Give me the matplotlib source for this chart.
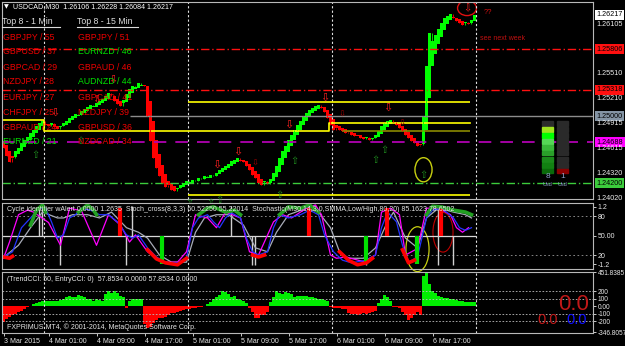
import numpy as np
import matplotlib.pyplot as plt
from matplotlib.patches import Ellipse, Rectangle
from matplotlib.lines import Line2D

plt.rcParams['font.family'] = ['Liberation Sans', 'DejaVu Sans']

W, H = 625, 346
nan = np.nan

# ---- USDCAD M30 closes (one per bar)
closes = [1.2462, 1.2452, 1.2445,
          1.2450, 1.2458, 1.2462, 1.2468, 1.2472, 1.2475, 1.2480, 1.2484, 1.2488, 1.2492, 1.2495,
          1.2490, 1.2488, 1.2492, 1.2487, 1.2485, 1.2489,
          1.2492, 1.2495, 1.2498, 1.2500, 1.2503, 1.2502, 1.2506, 1.2509, 1.2511, 1.2514, 1.2512,
          1.2516, 1.2519, 1.2521, 1.2524,
          1.2528, 1.2524, 1.2518, 1.2515, 1.2513, 1.2520, 1.2527, 1.2533, 1.2537, 1.2535, 1.2540,
          1.2538, 1.2536,
          1.2500, 1.2470, 1.2450, 1.2438, 1.2428, 1.2420, 1.2415, 1.2418, 1.2412, 1.2410,
          1.2414, 1.2418, 1.2420, 1.2422, 1.2421, 1.2424, 1.2423, 1.2426, 1.2425, 1.2428, 1.2427,
          1.2430, 1.2429,
          1.2432, 1.2436, 1.2438, 1.2440, 1.2443, 1.2446, 1.2448, 1.2450,
          1.2447, 1.2445, 1.2440, 1.2436, 1.2430, 1.2426, 1.2420, 1.2418, 1.2422, 1.2419,
          1.2425, 1.2432, 1.2440, 1.2450, 1.2458, 1.2465, 1.2472, 1.2478, 1.2484, 1.2490, 1.2495,
          1.2500, 1.2504, 1.2508, 1.2510, 1.2512, 1.2514,
          1.2510, 1.2505, 1.2498, 1.2490, 1.2484,
          1.2486, 1.2484, 1.2483, 1.2480, 1.2481, 1.2478, 1.2476, 1.2477, 1.2474, 1.2473, 1.2475,
          1.2472, 1.2474,
          1.2478, 1.2483, 1.2488, 1.2492, 1.2494, 1.2496, 1.2493,
          1.2490, 1.2486, 1.2482, 1.2478, 1.2474, 1.2470, 1.2468, 1.2464, 1.2466,
          1.2500, 1.2560, 1.2600,
          1.2590, 1.2598, 1.2605, 1.2612, 1.2618, 1.2620, 1.2623,
          1.2618, 1.2615, 1.2612, 1.2610, 1.2613, 1.2611,
          1.2616, 1.2622]
first_open = 1.2470

# horizontal levels on the price chart
res_lines = [1.25806, 1.25318]
pivot_line = 1.25000
pivot_from = 42
magenta_line = 1.24688
support_line = 1.24200
yellow_flat = [1.25173, 1.24057]
yellow_from, yellow_to = 61.5, 155.5
yellow_step_x = [-0.5, 13.5, 108.5, 155.5]
yellow_step_y = [1.24957, 1.24825, 1.24921, 1.24921]
olive_line = 1.24825
olive_from = 113

price_ticks = [1.26217, 1.26105, 1.25806, 1.25510, 1.25318, 1.25210, 1.25000,
               1.24915, 1.24688, 1.24615, 1.24320, 1.24200, 1.24020]
price_boxes = {1.26217: 'white', 1.25806: '#ff1010', 1.25318: '#ff1010',
               1.25000: '#8494a4', 1.24688: '#ff00ff', 1.24200: '#3ccc3c'}

# signal arrows (bar, price)
sell_x = [17, 31, 36.5, 71, 78, 95, 107, 128]
sell_y = [1.2498, 1.2514, 1.2538, 1.2436, 1.2451, 1.2484, 1.2516, 1.2504]
sell_small_x = [84, 113, 133]
sell_small_y = [1.2438, 1.2497, 1.2486]
buy_x = [10.5, 25.5, 62, 69, 72, 92, 97, 124, 127, 140]
buy_y = [1.2460, 1.2477, 1.2402, 1.2402, 1.2406, 1.2412, 1.2453, 1.2454, 1.2466, 1.2436]
top_arrow = (154.5, 1.2630)

# Top 8 lists
pairs_1min = ['GBPJPY / 55', 'GBPUSD / 37', 'GBPCAD / 29', 'NZDJPY / 28',
              'EURJPY / 27', 'CHFJPY / 25', 'GBPAUD / 24', 'EURNZD / 21']
up_1min = [0, 0, 0, 0, 0, 0, 0, 1]
pairs_15min = ['GBPJPY / 51', 'EURNZD / 46', 'GBPAUD / 46', 'AUDNZD / 44',
               'GBPCAD / 41', 'NZDJPY / 39', 'GBPUSD / 36', 'NZDCAD / 34']
up_15min = [0, 1, 0, 1, 0, 0, 0, 0]

# currency meter
meter_usd = 8
meter_cad = 1

# ---- stochastic panel
blue_idx = [0, 3, 6, 10, 12, 14, 16, 18, 20, 22, 24, 26, 29, 32, 35, 38, 41, 43, 45, 48,
            51, 54, 58, 61, 63, 65, 68, 70, 72, 74, 76, 79, 81, 83, 85, 88, 90, 92, 95, 99,
            102, 105, 107, 110, 113, 116, 121, 124, 126, 128, 131, 133, 135, 138, 141, 143,
            146, 150, 152, 154, 156]
blue_val = [17, 25, 62, 82, 92, 92, 71, 46, 51, 77, 82, 92, 89, 82, 82, 71, 51, 46, 51, 31,
            17, 8, 8, 15, 62, 77, 82, 71, 62, 77, 85, 77, 46, 25, 20, 25, 62, 82, 77, 82,
            89, 82, 51, 25, 12, 8, 12, 20, 62, 86, 71, 35, 9, 17, 77, 89,
            92, 77, 62, 58, 62]
mag_idx = [0, 2, 5, 8, 10, 15, 19, 22, 26, 31, 35, 39, 42, 44, 48, 51, 54, 58, 61, 64,
           68, 71, 74, 79, 82, 85, 90, 93, 96, 101, 104, 106, 109, 111, 114, 120, 124, 126,
           129, 132, 134, 138, 141, 145, 149, 151, 153, 155]
mag_val = [15, 40, 82, 89, 86, 70, 35, 92, 88, 35, 82, 66, 40, 51, 25, 15, 9, 9, 25, 82,
           77, 62, 86, 77, 25, 20, 71, 82, 77, 92, 97, 82, 20, 15, 17, 10, 20, 86,
           92, 82, 20, 30, 92, 92, 82, 62, 55, 62]
gray_idx = [0, 1, 5, 9, 13, 18, 20, 23, 28, 32, 36, 41, 45, 48, 52, 56, 61, 64, 67, 71,
            75, 80, 84, 88, 91, 95, 101, 105, 109, 112, 115, 120, 124, 128, 130, 134, 138,
            141, 145, 150, 154, 156]
gray_val = [17, 20, 35, 62, 86, 77, 77, 82, 82, 77, 86, 62, 55, 46, 20, 9, 9, 55, 77, 82,
            82, 66, 31, 25, 55, 82, 92, 86, 62, 25, 15, 15, 31, 71, 86, 46, 31,
            77, 92, 86, 82, 77]
trend_up_idx = [9, 11, 13, 14, nan, 25, 28, 30, 31, nan, 65, 68, 70, 74, 77, 79, nan,
                92, 95, 99, 102, 105, nan, 141, 143, 146, 150, 154, 156]
trend_up_val = [66, 89, 97, 86, nan, 86, 97, 89, 82, nan, 82, 92, 94, 86, 89, 82, nan,
                82, 94, 92, 97, 86, nan, 82, 95, 94, 89, 86, 82]
trend_dn_idx = [0, 2, 3, nan, 48, 51, 54, 58, 61, nan, 83, 85, 87, nan,
                112, 115, 118, 121, 123, nan, 133, 135, 137]
trend_dn_val = [17, 15, 18, nan, 28, 14, 8, 5, 15, nan, 20, 17, 20, nan,
                25, 12, 5, 8, 15, nan, 28, 8, 12]
cyc_up_white = [12, 13, 43, 76, 145]
cyc_up_red = [39, 102, 128, 146]
cyc_dn_white = [19, 41, 83, 84, 121, 145, 150]
cyc_dn_green = [53, 121, 138]

# ---- CCI histogram (one per bar)
cci = [-210, -170, -140, -120, -100, -80, -60, -40, -15, 10,
       30, 45, 55, 70, 70, 72, 74, 72, 75, 80,
       95, 117, 139, 120, 125, 145, 135, 117, 100, 90,
       74, 96, 80, 74, 160, 204, 180, 204, 180, 140,
       117, -20, 74, 90, 96, 96, 100, -230, -290, -270,
       -220, -180, -160, -150, -140, -120, -95, -85, -75, -60,
       -50, -40, -30, -25, -20, -15, -10, 10, 30, 52,
       90, 117, 150, 204, 195, 161, 117, 130, 96, 85,
       74, 40, -20, -75, -160, -160, -120, -120, -75, 52,
       120, 204, 182, 161, 195, 175, 161, 117, 139, 139,
       130, 139, 120, 117, 110, 96, 96, 80, 74, -15,
       -20, -20, -25, -30, -40, -90, -99, -99, -110, -99,
       -90, -99, -90, -80, -60, 40, 96, 150, 117, 74,
       -10, -15, -20, -75, -120, -185, -150, -120, -75, -120,
       400, 452, 300, 200, 170, 130, 120, 110, 110, 100,
       90, 80, 70, 65, 60, 60, 55, 58]

separators = [13.5, 61.5, 109.5, 157.5]
time_pos = [0, 15.3, 31.3, 47.3, 63.3, 79.3, 95.3, 111.3, 127.3, 143.3]
time_lab = ['3 Mar 2015', '4 Mar 01:00', '4 Mar 09:00', '4 Mar 17:00', '5 Mar 01:00',
            '5 Mar 09:00', '5 Mar 17:00', '6 Mar 01:00', '6 Mar 09:00', '6 Mar 17:00']


def ftext(x, y, s, **kw):
    kw.setdefault('va', 'center')
    fig.text(x / W, 1 - y / H, s, **kw)


def style(ax):
    ax.set_facecolor('black')
    for s in ax.spines.values():
        s.set_color('#b8b8b8')
        s.set_linewidth(0.8)
    ax.set_xlim(-0.5, 196.5)
    ax.tick_params(colors='#e8e8e8', labelsize=5, length=2, width=0.6, pad=1.5)
    ax.set_xticks([])
    for s in separators:
        ax.axvline(s, color='#e0e0e0', ls=(0, (2, 2)), lw=0.8)


fig = plt.figure(figsize=(W / 100, H / 100), dpi=100, facecolor='black')
ax0 = fig.add_axes([2 / W, 1 - 199 / H, 591 / W, 197 / H])
ax1 = fig.add_axes([2 / W, 1 - 269 / H, 591 / W, 66 / H])
ax2 = fig.add_axes([2 / W, 1 - 333 / H, 591 / W, 61 / H])
for a in (ax0, ax1, ax2):
    style(a)

# ---------------- main price chart
ax0.set_ylim(1.24009, 1.26373)
for p in res_lines:
    ax0.axhline(p, color='#ff1010', ls=(0, (6, 2, 1, 2)), lw=1)
ax0.hlines(pivot_line, pivot_from, 196.5, color='#8c8c8c', lw=1)
ax0.axhline(magenta_line, color='#b000b0', ls=(0, (7, 5)), lw=1.3)
ax0.axhline(support_line, color='#3ccc3c', ls=(0, (6, 2, 1, 2)), lw=1)
for p in yellow_flat:
    ax0.hlines(p, yellow_from, yellow_to, color='#ffff00', lw=1.2)
ax0.plot(yellow_step_x, yellow_step_y, drawstyle='steps-post', color='#ffff00', lw=1.2)
ax0.hlines(olive_line, olive_from, yellow_to, color='#8a8a00', lw=1.2)

c = np.array(closes)
ha_open = np.empty_like(c)
ha_open[0] = first_open
for k in range(1, len(c)):
    ha_open[k] = (ha_open[k - 1] + c[k - 1]) / 2
idx = np.arange(len(c))
up = c >= ha_open
ax0.bar(idx, c - ha_open, bottom=ha_open, width=0.75,
        color=np.where(up, '#00ff00', '#ff0000'), linewidth=0)
# thin wicks reaching the previous close
prev = np.concatenate([[first_open], c[:-1]])
ax0.vlines(idx, np.minimum(prev, c), np.maximum(prev, c),
           colors=np.where(up, '#00ff00', '#ff0000'), lw=0.6)

for x, y in zip(sell_x, sell_y):
    ax0.text(x, y, '\u21e9', color='#ff2020', fontsize=8, ha='center', va='bottom',
             family='DejaVu Sans')
for x, y in zip(sell_small_x, sell_small_y):
    ax0.text(x, y, '\u21e9', color='#a00000', fontsize=6, ha='center', va='bottom',
             family='DejaVu Sans')
for x, y in zip(buy_x, buy_y):
    ax0.text(x, y, '\u21e7', color='#1f8f1f', fontsize=7, ha='center', va='top',
             family='DejaVu Sans')
ax0.text(top_arrow[0], top_arrow[1], '\u21e9', color='#ff2020', fontsize=7,
         ha='center', va='center', family='DejaVu Sans')
ax0.add_patch(Ellipse(top_arrow, 6.3, 0.0018, fill=False, ec='#e01010', lw=1))
ax0.add_patch(Ellipse((140, 1.2436), 5.7, 0.0029, fill=False, ec='#c8d010', lw=1))
ax0.text(160, 1.26253, '??', color='#d01010', fontsize=5.5, va='center')
ax0.text(159, 1.25941, 'see next week', color='#c01010', fontsize=5, va='center')

ax0.set_yticks([])
for p in price_ticks:
    box = price_boxes.get(p)
    kw = dict(color='black' if box else '#ececec')
    if box:
        kw['bbox'] = dict(boxstyle='square,pad=0.2', fc=box, ec='none')
    ax0.text(1.006, p, f'{p:.5f}', transform=ax0.get_yaxis_transform(), fontsize=5.2,
             va='center', ha='left', clip_on=False, **kw)

# currency meter
usd_cols = ['#2c2c2c', '#9ee21e', '#00ff00', '#55d855', '#38b838', '#2aa02a',
            '#1a8a1a', '#128012', '#0a6a0a']
for r in range(9):
    y0 = 121 + 6 * r
    on_cad = r >= 9 - meter_cad
    fig.add_artist(Rectangle((542 / W, 1 - (y0 + 4.5) / H), 11 / W, 4.5 / H,
                             color=usd_cols[r] if r >= 9 - meter_usd else '#2c2c2c'))
    fig.add_artist(Rectangle((557 / W, 1 - (y0 + 4.5) / H), 11 / W, 4.5 / H,
                             color='#8a0000' if on_cad else '#2a2a2a'))
ftext(547.5, 177, str(meter_usd), color='#8fa2cc', fontsize=6, ha='center')
ftext(562.5, 177, str(meter_cad), color='#8fa2cc', fontsize=6, ha='center')
ftext(547.5, 185, 'Usd', color='#8fa2cc', fontsize=4, ha='center')
ftext(562.5, 185, 'Usd', color='#8fa2cc', fontsize=4, ha='center')

# overlay texts
ftext(4, 7, '\u25bc', color='white', fontsize=4.5, family=['DejaVu Sans'])
ftext(13, 7, 'USDCAD,M30  1.26106 1.26228 1.26084 1.26217', color='white', fontsize=5.1)
ftext(2, 22, 'Top 8 - 1 Min', color='#dcdcdc', fontsize=6.3)
ftext(77, 22, 'Top 8 - 15 Min', color='#dcdcdc', fontsize=6.3)
fig.add_artist(Line2D([2 / W, 60 / W], [1 - 27 / H] * 2, color='#dcdcdc', lw=0.8))
fig.add_artist(Line2D([77 / W, 138 / W], [1 - 27 / H] * 2, color='#dcdcdc', lw=0.8))
for k in range(8):
    yk = 37 + 15 * k
    ftext(3, yk, pairs_1min[k], color='#00e000' if up_1min[k] else '#ee0000', fontsize=6.3)
    ftext(78, yk, pairs_15min[k], color='#00e000' if up_15min[k] else '#ee0000', fontsize=6.3)

# ---------------- stochastic + cycle identifier
ax1.set_ylim(-1.5, 100)
for lv in (80, 20):
    ax1.axhline(lv, color='#9a9a9a', ls=(0, (2, 3)), lw=0.6)
ax1.hlines(50, -0.5, 157.5, color='#d8d8d8', lw=0.9)
ax1.vlines(cyc_up_white, 50, 95, color='#d0d0d0', lw=1)
ax1.vlines(cyc_dn_white, 50, 4, color='#d0d0d0', lw=1)
ax1.plot(gray_idx, gray_val, color='#a8acb8', lw=0.9)
ax1.plot(mag_idx, mag_val, color='#ff00ff', lw=0.9)
ax1.plot(blue_idx, blue_val, color='#2434ff', lw=0.9)
ax1.vlines(cyc_up_red, 50, 93, color='#ff0000', lw=3)
ax1.vlines(cyc_dn_green, 50, 6, color='#00e000', lw=3)
ax1.plot(trend_up_idx, trend_up_val, color='#22a022', lw=2.6)
ax1.plot(trend_dn_idx, trend_dn_val, color='#ff0000', lw=2.6)
ax1.add_patch(Ellipse((146.5, 55), 6.7, 61, fill=False, ec='#c00000', lw=0.8))
ax1.add_patch(Ellipse((138, 29), 7.7, 69, fill=False, ec='#c8d010', lw=0.9, clip_on=False))
ax1.yaxis.tick_right()
ax1.set_yticks([94, 80, 50, 20, 6], ['1.2', '80', '50.00', '20', '-1.2'])
ax1.text(0.008, 0.9, 'Cycle identifier wAlert 0.0000 1.2635  Stoch_cross(8,3,3) 60.52250 55.22014  '
         'Stochastic(M30,14,3,0,SMMA,Low/High,80,20) 85.1623 78.6502',
         transform=ax1.transAxes, color='#e6e6e6', fontsize=5, va='center')

# ---------------- CCI
ax2.set_ylim(-355, 455)
for lv in (200, 100, -100, -200):
    ax2.axhline(lv, color='#bcbcbc', ls=(0, (2, 2)), lw=0.6)
cv = np.array(cci)
ax2.bar(np.arange(len(cv)), cv, width=0.7, color=np.where(cv >= 0, '#00ee00', '#ff0000'),
        linewidth=0)
ax2.yaxis.tick_right()
ax2.set_yticks([451.8385, 200, 100, 0, -100, -200, -346.8057],
               ['451.8385', '200', '100', '0.00', '-100', '-200', '-346.8057'])
for t in ax2.get_yticklabels():
    t.set_fontsize(4.7)
ax2.set_xticks(time_pos, time_lab)
for t in ax2.get_xticklabels():
    t.set_ha('left')
ax2.text(0.008, 0.88, '(TrendCCI: 50, EntryCCI: 0)  57.8534 0.0000 57.8534 0.0000',
         transform=ax2.transAxes, color='#e6e6e6', fontsize=5, va='center')
ax2.text(0.008, 0.1, 'FXPRIMUS MT4, \u00a9 2001-2014, MetaQuotes Software Corp.',
         transform=ax2.transAxes, color='#e6e6e6', fontsize=5, va='center')
ftext(574, 305, '0.0', color='#c01818', fontsize=16, ha='center')
ftext(547.5, 320, '0.0', color='#c01818', fontsize=10.5, ha='center')
ftext(577, 320, '0.0', color='#1010ff', fontsize=10.5, ha='center')

fig.savefig('out.png', dpi=100, facecolor='black')
